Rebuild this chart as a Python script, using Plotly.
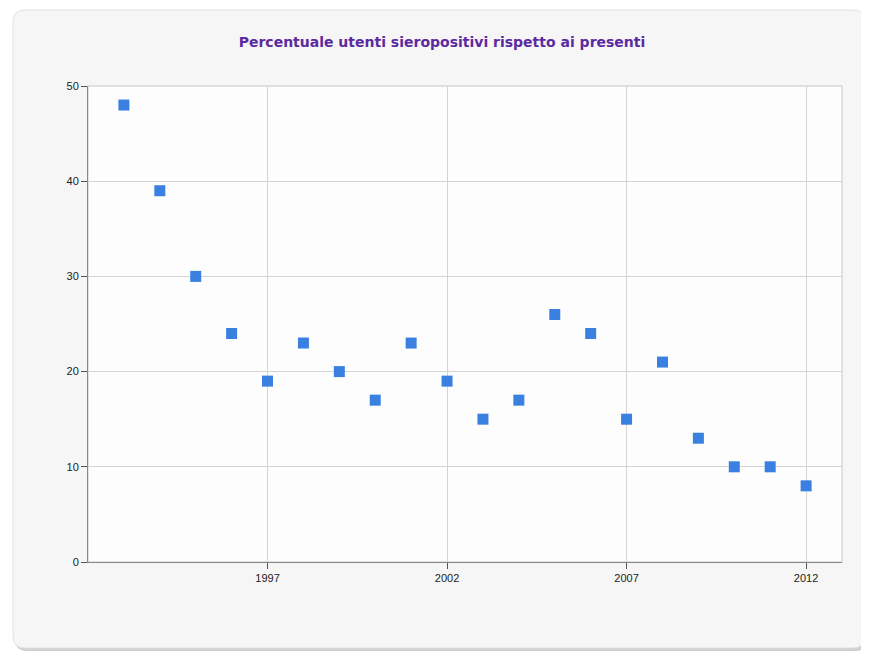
import plotly.graph_objects as go

years = list(range(1993, 2013))
values = [48, 39, 30, 24, 19, 23, 20, 17, 23, 19, 15, 17, 26, 24, 15, 21, 13, 10, 10, 8]
x_ticks = [1997, 2002, 2007, 2012]
y_ticks = [0, 10, 20, 30, 40, 50]
title_text = "Percentuale utenti sieropositivi rispetto ai presenti"

fig = go.Figure()
fig.add_trace(go.Scatter(
    x=years, y=values, mode="markers",
    marker=dict(symbol="square", size=11, color="#3a80e0", line=dict(width=0)),
    hoverinfo="x+y", showlegend=False,
))

OFF = 8  # page body margin
W, H = 869 - OFF, 652 - OFF
ml, mt = 88 - OFF, 86 - OFF
mr = W - (842 - OFF)
mb = H - (562 - OFF)
pw, ph = W - ml - mr, H - mt - mb

def px_to_paper_x(px):
    return (px - OFF - ml) / pw

def px_to_paper_y(py):
    return (H - mb - (py - OFF)) / ph

def rounded(xa, xb, ya, yb, r=12):
    x0, x1 = px_to_paper_x(xa), px_to_paper_x(xb)
    y0, y1 = px_to_paper_y(yb), px_to_paper_y(ya)
    rx, ry = r / pw, r / ph
    return (f"M {x0+rx},{y0} L {x1-rx},{y0} Q {x1},{y0} {x1},{y0+ry} "
            f"L {x1},{y1-ry} Q {x1},{y1} {x1-rx},{y1} L {x0+rx},{y1} "
            f"Q {x0},{y1} {x0},{y1-ry} L {x0},{y0+ry} Q {x0},{y0} {x0+rx},{y0} Z")

fig.add_shape(type="path", path=rounded(15, 868, 12, 651), xref="paper", yref="paper",
              fillcolor="#cfcfcf", line=dict(width=0), layer="below")
fig.add_shape(type="path", path=rounded(13, 865, 10, 648), xref="paper", yref="paper",
              fillcolor="#f6f6f6", line=dict(color="#e2e2e2", width=1), layer="below")
fig.add_shape(type="rect", x0=0, x1=1, y0=0, y1=1, xref="paper", yref="paper",
              fillcolor="#fdfdfd", line=dict(color="#c8c8c8", width=1), layer="below")

fig.update_layout(
    width=W, height=H,
    margin=dict(l=ml, r=mr, t=mt, b=mb),
    paper_bgcolor="white",
    plot_bgcolor="rgba(0,0,0,0)",
    title=dict(text=f"<b>{title_text}</b>", x=(442 - OFF) / W, xanchor="center",
               y=1 - (42 - OFF) / H, yanchor="middle",
               font=dict(family="DejaVu Sans", size=14, color="#5c2aa0")),
    font=dict(family="Liberation Sans, Arial", size=11, color="#222222"),
)
fig.update_xaxes(
    range=[1992, 2013], tickmode="array", tickvals=x_ticks,
    ticktext=[str(t) for t in x_ticks],
    showgrid=True, gridcolor="#d4d4d4", gridwidth=1,
    ticks="outside", ticklen=6, tickcolor="#555555",
    showline=True, linecolor="#888888", linewidth=1,
    zeroline=False, fixedrange=True,
)
fig.update_yaxes(
    range=[0, 50], tickmode="array", tickvals=y_ticks,
    showgrid=True, gridcolor="#d4d4d4", gridwidth=1,
    ticks="outside", ticklen=6, tickcolor="#555555",
    showline=True, linecolor="#888888", linewidth=1,
    zeroline=False, fixedrange=True,
)
fig.write_html("out.html")
